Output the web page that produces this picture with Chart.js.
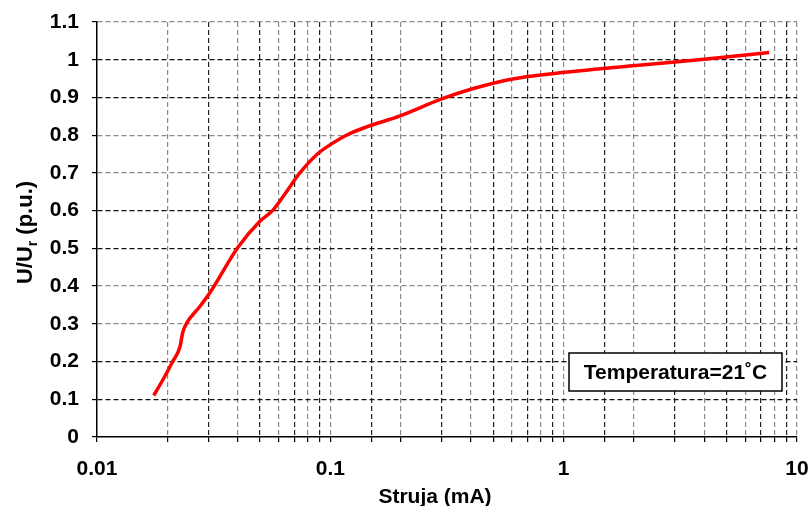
<!DOCTYPE html>
<html>
<head>
<meta charset="utf-8">
<script src="https://cdn.jsdelivr.net/npm/chart.js@4.4.0/dist/chart.umd.min.js"></script>
<style>
html,body{margin:0;padding:0;background:#fff;}
#wrap{width:810px;height:506px;position:relative;}
</style>
</head>
<body>
<div id="wrap"><canvas id="c" width="810" height="506"></canvas></div>
<script>
// Data
const currentMA = [0.0175, 0.0193, 0.0211, 0.0227, 0.0233, 0.0243, 0.0276, 0.0305, 0.0402, 0.0499, 0.0565, 0.0640, 0.074, 0.088, 0.1, 0.12, 0.143, 0.199, 0.3, 0.407, 0.605, 0.897, 1.98, 3.8, 7.6];
const voltagePU = [0.11, 0.155, 0.20, 0.24, 0.277, 0.303, 0.346, 0.383, 0.503, 0.572, 0.60, 0.645, 0.70, 0.75, 0.775, 0.803, 0.822, 0.851, 0.896, 0.923, 0.949, 0.963, 0.984, 1.0, 1.019];
const xTickLabels = [0.01, 0.1, 1, 10];
const yMin = 0, yMax = 1.1, yStep = 0.1;
const xTitle = 'Struja (mA)';
const yTitleMain = 'U/U', yTitleSub = 'r', yTitleTail = ' (p.u.)';
const noteText = 'Temperatura=21\u02DAC';

const FONT = 'Arial, "Liberation Sans", sans-serif';
const ctxEl = document.getElementById('c');

const points = currentMA.map((x, i) => ({x: x, y: voltagePU[i]}));

const customDraw = {
  id: 'customDraw',
  afterDraw(chart) {
    const ctx = chart.ctx;
    const a = chart.chartArea;
    ctx.save();
    // y-axis title with subscript
    ctx.fillStyle = '#000';
    ctx.translate(26, (a.top + a.bottom) / 2 + 3);
    ctx.rotate(-Math.PI / 2);
    ctx.font = 'bold 22px ' + FONT;
    const w1 = ctx.measureText(yTitleMain).width;
    ctx.font = 'bold 14px ' + FONT;
    const w2 = ctx.measureText(yTitleSub).width;
    ctx.font = 'bold 22px ' + FONT;
    const w3 = ctx.measureText(yTitleTail).width;
    let sx = -(w1 + w2 + w3) / 2;
    ctx.textBaseline = 'middle';
    ctx.textAlign = 'left';
    ctx.fillText(yTitleMain, sx, 0);
    ctx.font = 'bold 14px ' + FONT;
    ctx.fillText(yTitleSub, sx + w1, 7);
    ctx.font = 'bold 22px ' + FONT;
    ctx.fillText(yTitleTail, sx + w1 + w2, 0);
    ctx.restore();

    // x-axis title
    ctx.save();
    ctx.fillStyle = '#000';
    ctx.font = 'bold 21px ' + FONT;
    ctx.textAlign = 'center';
    ctx.textBaseline = 'alphabetic';
    ctx.fillText(xTitle, (a.left + a.right) / 2 - 12, a.bottom + 66);
    ctx.restore();

    // annotation box
    ctx.save();
    const bx = a.right - 228, by = a.bottom - 84, bw = 213, bh = 38;
    ctx.fillStyle = '#fff';
    ctx.fillRect(bx, by, bw, bh);
    ctx.strokeStyle = '#000';
    ctx.lineWidth = 1.5;
    ctx.strokeRect(bx, by, bw, bh);
    ctx.fillStyle = '#000';
    ctx.font = 'bold 21px ' + FONT;
    ctx.textAlign = 'center';
    ctx.textBaseline = 'middle';
    ctx.fillText(noteText, bx + bw / 2, by + bh / 2 + 1);
    ctx.restore();
  }
};

function hGridColor(ctx) {
  const i = ctx.index;
  if (i === 0) return 'rgba(0,0,0,0)';
  return (i % 4 === 1 || i % 4 === 2) ? '#111' : '#8a8a8a';
}
function vGridColor(ctx) {
  const v = ctx.tick ? ctx.tick.value : 0;
  if (Math.abs(v - 0.01) < 1e-9) return 'rgba(0,0,0,0)';
  return ctx.index % 2 === 0 ? '#222' : '#8a8a8a';
}

new Chart(ctxEl, {
  type: 'line',
  data: {
    datasets: [{
      data: points,
      borderColor: '#ff0000',
      borderWidth: 3.5,
      pointRadius: 0,
      tension: 0.4,
      cubicInterpolationMode: 'monotone',
      fill: false
    }]
  },
  options: {
    responsive: false,
    animation: false,
    devicePixelRatio: 1,
    layout: {padding: {left: 0, right: 13, top: 22, bottom: 0}},
    plugins: {legend: {display: false}, tooltip: {enabled: false}},
    scales: {
      x: {
        type: 'logarithmic',
        min: 0.01, max: 10,
        border: {display: true, color: '#000', width: 1.5, dash: [5, 3]},
        grid: {
          color: vGridColor,
          lineWidth: 1.2,
          drawTicks: true,
          tickLength: 5,
          tickColor: '#000',
          tickBorderDash: []
        },
        ticks: {
          autoSkip: false,
          maxRotation: 0,
          color: '#000',
          padding: 15,
          font: {family: FONT, size: 21, weight: 'bold'},
          callback: function(value) {
            const hit = xTickLabels.find(t => Math.abs(value - t) / t < 1e-6);
            return hit !== undefined ? String(hit) : '';
          }
        },
        afterFit: s => { s.height = 69; s.paddingLeft = 0; s.paddingRight = 0; }
      },
      y: {
        type: 'linear',
        min: yMin, max: yMax,
        border: {display: true, color: '#000', width: 1.5, dash: [5, 3]},
        grid: {
          color: hGridColor,
          lineWidth: 1.2,
          tickLength: 5,
          tickColor: '#000',
          tickBorderDash: []
        },
        ticks: {
          stepSize: yStep,
          color: '#000',
          padding: 13,
          font: {family: FONT, size: 21, weight: 'bold'},
          callback: v => String(Math.round(v * 10) / 10)
        },
        afterFit: s => { s.width = 97; s.paddingTop = 0; s.paddingBottom = 0; }
      }
    }
  },
  plugins: [customDraw]
});
</script>
</body>
</html>
